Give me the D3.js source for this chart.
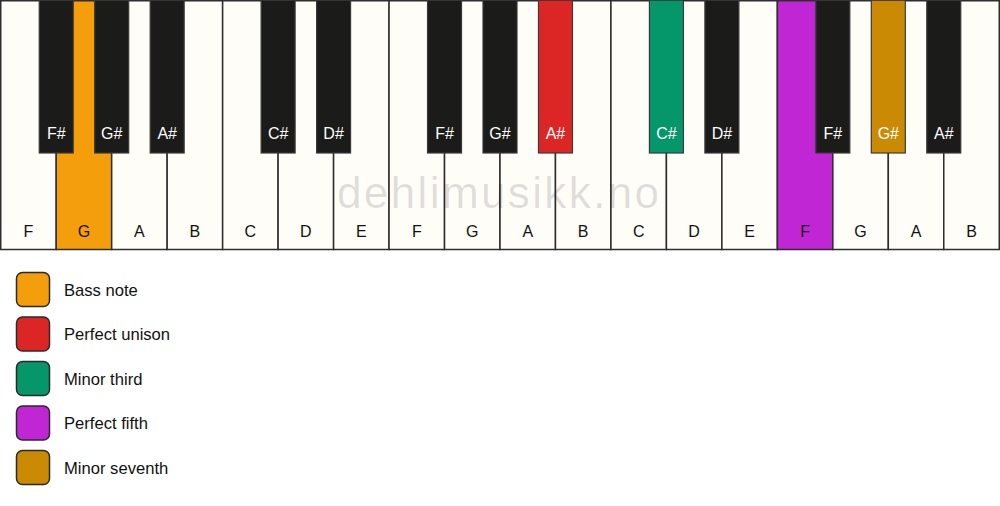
<!DOCTYPE html>
<html><head><meta charset="utf-8">
<script src="https://cdn.jsdelivr.net/npm/d3@7"></script>
<style>html,body{margin:0;padding:0;background:#fff;}svg{display:block;}</style>
</head><body>
<svg id="c" width="1000" height="506"></svg>
<script>
const whiteNotes = ["F","G","A","B","C","D","E","F","G","A","B","C","D","E","F","G","A","B"];
const sharpAfter = {"F":"F#","G":"G#","A":"A#","C":"C#","D":"D#"};
const legendLabels = ["Bass note","Perfect unison","Minor third","Perfect fifth","Minor seventh"];
const legendColors = ["#f59e0b","#dc2626","#059669","#c026d3","#ca8a04"];
// highlighted keys: kind, index of white key (black key sits right of it), role
const highlights = [
  {kind:"white", white:1,  role:"Bass note"},
  {kind:"black", white:9,  role:"Perfect unison"},
  {kind:"black", white:11, role:"Minor third"},
  {kind:"white", white:14, role:"Perfect fifth"},
  {kind:"black", white:15, role:"Minor seventh"}
];
const watermark = "dehlimusikk.no";

const svg = d3.select("#c");
const font = "'Liberation Sans', Arial, Helvetica, sans-serif";
const color = d3.scaleOrdinal().domain(legendLabels).range(legendColors);
const x = d3.scaleBand().domain(d3.range(whiteNotes.length)).range([0.75, 999.25]).padding(0);
const kbTop = 0.75, kbBottom = 249.5, blackBottom = 153, blackW = 34;
const y = d3.scaleLinear().domain([0,1]).range([kbTop, kbBottom]);

function hl(kind, i){ const h = highlights.find(d=>d.kind===kind && d.white===i); return h ? color(h.role) : null; }

const whites = whiteNotes.map((n,i)=>({note:n, i, fill: hl("white", i)}));
const blacks = [];
whiteNotes.forEach((n,i)=>{ if (sharpAfter[n] && i < whiteNotes.length-1) blacks.push({note:sharpAfter[n], i, fill: hl("black", i)}); });

const gW = svg.append("g");
gW.selectAll("rect").data(whites).join("rect")
  .attr("x", d=>x(d.i)).attr("y", y(0)).attr("width", x.bandwidth()).attr("height", y(1)-y(0))
  .attr("fill", d=>d.fill || "#fffdf8").attr("stroke", "#2e2e2e").attr("stroke-width", 1.5);

svg.append("text").text(watermark)
  .attr("x", 498).attr("y", 208).attr("text-anchor","middle")
  .attr("font-family", font).attr("font-size", 44)
  .attr("textLength", 322).attr("lengthAdjust","spacing")
  .attr("fill", "#000").attr("fill-opacity", 0.12);

svg.append("g").selectAll("text").data(whites).join("text")
  .attr("x", d=>x(d.i)+x.bandwidth()/2).attr("y", 237)
  .attr("text-anchor","middle").attr("font-family", font).attr("font-size", 16)
  .attr("fill", "#111").text(d=>d.note);

const gB = svg.append("g");
gB.selectAll("rect").data(blacks).join("rect")
  .attr("x", d=>x(d.i)+x.bandwidth()-blackW/2).attr("y", y(0)-0.5).attr("width", blackW).attr("height", blackBottom-y(0)+0.5)
  .attr("fill", d=>d.fill || "#1b1b19").attr("stroke", "#3a3a3a").attr("stroke-width", 1.2);
gB.selectAll("text").data(blacks).join("text")
  .attr("x", d=>x(d.i)+x.bandwidth()).attr("y", 139)
  .attr("text-anchor","middle").attr("font-family", font).attr("font-size", 16)
  .attr("fill", "#fff").text(d=>d.note);

const ly = d3.scalePoint().domain(legendLabels).range([289.5, 467.5]);
const lg = svg.append("g");
lg.selectAll("rect").data(legendLabels).join("rect")
  .attr("x", 16.5).attr("y", d=>ly(d)-17).attr("width", 33).attr("height", 34).attr("rx", 6)
  .attr("fill", d=>color(d)).attr("stroke", "#2a2a2a").attr("stroke-width", 1.5);
lg.selectAll("text").data(legendLabels).join("text")
  .attr("x", 64).attr("y", d=>ly(d)+6).attr("font-family", font).attr("font-size", 16.6)
  .attr("fill", "#111").text(d=>d);
</script>
</body></html>
